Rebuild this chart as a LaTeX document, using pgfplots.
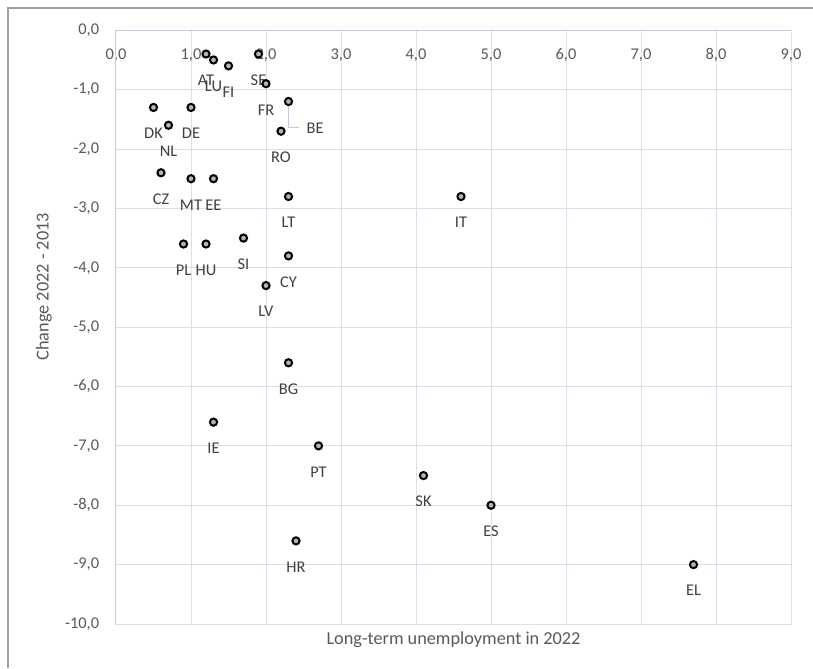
\documentclass[border=0pt]{standalone}
\usepackage{pgfplots}
\usepackage{pgfplotstable}
\usepackage{fontspec}
\setmainfont{Carlito}
\pgfplotsset{compat=1.18}

\definecolor{gridc}{RGB}{219,223,231}
\definecolor{axisc}{RGB}{196,204,218}
\definecolor{tickc}{RGB}{89,89,89}
\definecolor{labelc}{RGB}{64,64,64}
\definecolor{markc}{RGB}{180,180,180}
\definecolor{framec}{RGB}{160,160,160}

% long-term unemployment 2022 vs change 2022-2013
\pgfplotstableread{
x    y     lab
1.2  -0.4  AT
1.3  -0.5  LU
1.5  -0.6  FI
1.9  -0.4  SE
2.0  -0.9  FR
2.2  -1.7  RO
0.5  -1.3  DK
1.0  -1.3  DE
0.7  -1.6  NL
0.6  -2.4  CZ
1.0  -2.5  MT
1.3  -2.5  EE
2.3  -2.8  LT
4.6  -2.8  IT
0.9  -3.6  PL
1.2  -3.6  HU
1.7  -3.5  SI
2.3  -3.8  CY
2.0  -4.3  LV
2.3  -5.6  BG
1.3  -6.6  IE
2.7  -7.0  PT
2.4  -8.6  HR
4.1  -7.5  SK
5.0  -8.0  ES
7.7  -9.0  EL
}\mainpts

\pgfplotstableread{
x    y     lab
2.3  -1.2  BE
}\bepts

\begin{document}
\begin{tikzpicture}
\path[use as bounding box] (-87pt,-33pt) rectangle (522.75pt,468pt);
\begin{axis}[
    scale only axis,
    width=506.25pt, height=445.3pt,
    xmin=0, xmax=9, ymin=-10, ymax=0,
    xtick={0,1,...,9}, ytick={-10,-9,...,0},
    grid=major,
    grid style={gridc, line width=0.75pt},
    axis line style={gridc, line width=0.75pt},
    major tick length=0pt,
    xticklabel pos=upper,
    /pgf/number format/.cd, fixed, fixed zerofill, precision=1, use comma, assume math mode=true,
    /pgfplots/.cd,
    xticklabel style={anchor=base, yshift=-22pt, font=\fontsize{12.3}{14}\selectfont, text=tickc},
    yticklabel style={anchor=east, inner sep=0pt, xshift=-12.5pt, font=\fontsize{12.3}{14}\selectfont, text=tickc},
    xlabel={Long-term unemployment in 2022},
    ylabel={Change 2022 - 2013},
    x label style={at={(axis description cs:0.5,0)}, anchor=center, yshift=-12pt, font=\fontsize{13.7}{16}\selectfont, text=tickc},
    y label style={at={(axis description cs:-0.1067,0.568)}, anchor=center, font=\fontsize{13.7}{16}\selectfont, text=tickc},
    clip=false,
]
\draw[axisc, line width=0.75pt] (rel axis cs:0,0) -- (rel axis cs:0,1) -- (rel axis cs:1,1);

\addplot[
    only marks, mark=*, mark size=2.7pt,
    mark options={draw=black, fill=markc, line width=1.5pt},
    point meta=explicit symbolic,
    nodes near coords,
    every node near coord/.append style={anchor=base, yshift=-23.5pt, font=\fontsize{12.3}{14}\selectfont, text=labelc},
] table[x=x, y=y, meta=lab] {\mainpts};

% BE is labelled to the right with a leader line
\draw[axisc, line width=0.75pt] (axis cs:2.3,-1.2) ++(0pt,-3.5pt) -- ++(0pt,-16pt) -- ++(7.7pt,0pt);
\addplot[
    only marks, mark=*, mark size=2.7pt,
    mark options={draw=black, fill=markc, line width=1.5pt},
    point meta=explicit symbolic,
    nodes near coords,
    every node near coord/.append style={anchor=base west, xshift=9.5pt, yshift=-24.2pt, font=\fontsize{12.3}{14}\selectfont, text=labelc},
] table[x=x, y=y, meta=lab] {\bepts};
\end{axis}
% chart area frame
\draw[framec, line width=1.5pt] (-81pt,-33pt) -- (-81pt,462pt) -- (522.75pt,462pt);
\end{tikzpicture}
\end{document}
